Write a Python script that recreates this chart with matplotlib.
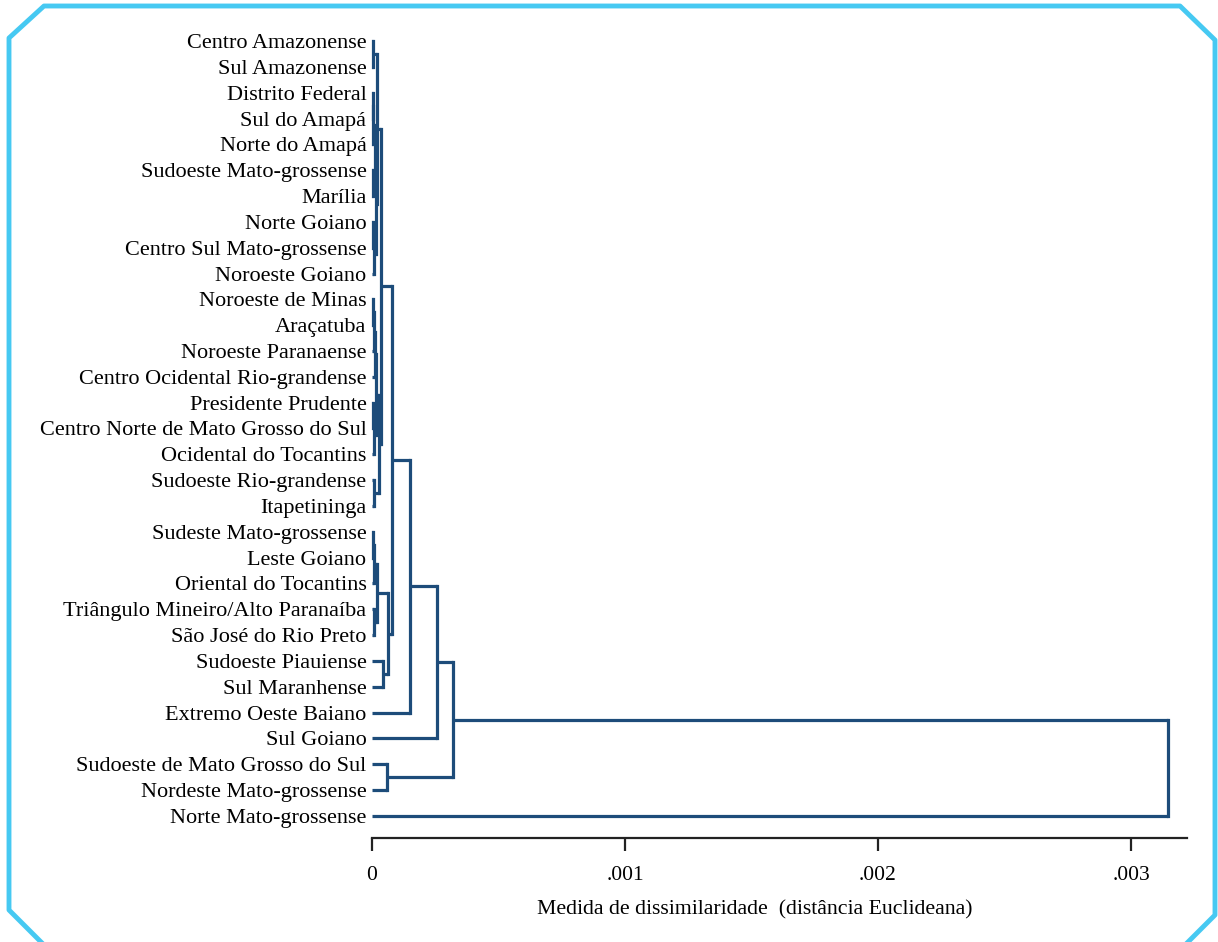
import numpy as np
import matplotlib.pyplot as plt
from matplotlib.lines import Line2D

plt.rcParams['font.family'] = ['Liberation Serif', 'DejaVu Serif']

labels = ["Centro Amazonense", "Sul Amazonense", "Distrito Federal", "Sul do Amapá",
          "Norte do Amapá", "Sudoeste Mato-grossense", "Marília", "Norte Goiano",
          "Centro Sul Mato-grossense", "Noroeste Goiano", "Noroeste de Minas", "Araçatuba",
          "Noroeste Paranaense", "Centro Ocidental Rio-grandense", "Presidente Prudente",
          "Centro Norte de Mato Grosso do Sul", "Ocidental do Tocantins",
          "Sudoeste Rio-grandense", "Itapetininga", "Sudeste Mato-grossense", "Leste Goiano",
          "Oriental do Tocantins", "Triângulo Mineiro/Alto Paranaíba", "São José do Rio Preto",
          "Sudoeste Piauiense", "Sul Maranhense", "Extremo Oeste Baiano", "Sul Goiano",
          "Sudoeste de Mato Grosso do Sul", "Nordeste Mato-grossense", "Norte Mato-grossense"]

# (left, right, height) ; ids >= len(labels) are earlier merges
merges = [(0, 1, 0.3e-5), (2, 3, 0.2e-5), (32, 4, 0.5e-5), (5, 6, 0.2e-5),
          (33, 34, 1.0e-5), (7, 8, 0.3e-5), (36, 9, 0.6e-5), (35, 37, 1.5e-5),
          (31, 38, 2.0e-5), (10, 11, 0.2e-5), (40, 12, 0.6e-5), (41, 13, 1.0e-5),
          (14, 15, 0.3e-5), (43, 16, 0.8e-5), (42, 44, 1.4e-5), (17, 18, 0.6e-5),
          (45, 46, 2.6e-5), (39, 47, 3.4e-5), (19, 20, 0.3e-5), (49, 21, 0.8e-5),
          (22, 23, 0.6e-5), (50, 51, 2.0e-5), (24, 25, 4.3e-5), (52, 53, 6.3e-5),
          (48, 54, 8.0e-5), (55, 26, 15.0e-5), (56, 27, 25.7e-5), (28, 29, 5.9e-5),
          (57, 58, 32.0e-5), (59, 30, 314.6e-5)]

xticks = [0, 0.001, 0.002, 0.003]
xticklabels = ["0", ".001", ".002", ".003"]

W, H = 1218, 942
fig = plt.figure(figsize=(W / 100, H / 100), dpi=100)
ax = fig.add_axes([372 / W, 1 - 838 / H, (1187 - 372) / W, (838 - 30) / H])

n = len(labels)
pos = {i: float(i) for i in range(n)}
hgt = {i: 0.0 for i in range(n)}
col = "#1d4c7a"
for k, (a, b, h) in enumerate(merges):
    node = n + k
    for c in (a, b):
        ax.plot([hgt[c], h], [pos[c], pos[c]], color=col, lw=2.3, solid_capstyle='butt', clip_on=False)
    ax.plot([h, h], [pos[a], pos[b]], color=col, lw=2.3, solid_capstyle='projecting', clip_on=False)
    pos[node] = (pos[a] + pos[b]) / 2
    hgt[node] = h

ax.set_xlim(0, 815 / 253000)
ax.set_ylim(n - 1 + 22 / 25.83, -11 / 25.83)
for s in ["top", "right", "left"]:
    ax.spines[s].set_visible(False)
ax.spines["bottom"].set_linewidth(1.6)
ax.spines["bottom"].set_color("#222222")
ax.set_xticks(xticks)
ax.set_xticklabels(xticklabels, fontsize=15.5)
ax.tick_params(axis='x', length=9, width=1.6, color="#222222", pad=11)
ax.set_yticks(range(n))
ax.set_yticklabels(labels, fontsize=16)
ax.tick_params(axis='y', length=0, pad=4)

fig.text(755 / W, 1 - 910 / H, "Medida de dissimilaridade  (distância Euclideana)",
         ha='center', va='center', fontsize=15.7)

# light blue frame with cut corners
fx = [44, 9, 9, 44]
fy = [945, 910, 38, 6]
fx += [1180, 1215, 1215, 1185]
fy += [6, 40, 915, 945]
fig.add_artist(Line2D([x / W for x in fx], [1 - y / H for y in fy],
                      transform=fig.transFigure, color="#46c9f2", lw=3.5))

fig.savefig("out.png", dpi=100)
